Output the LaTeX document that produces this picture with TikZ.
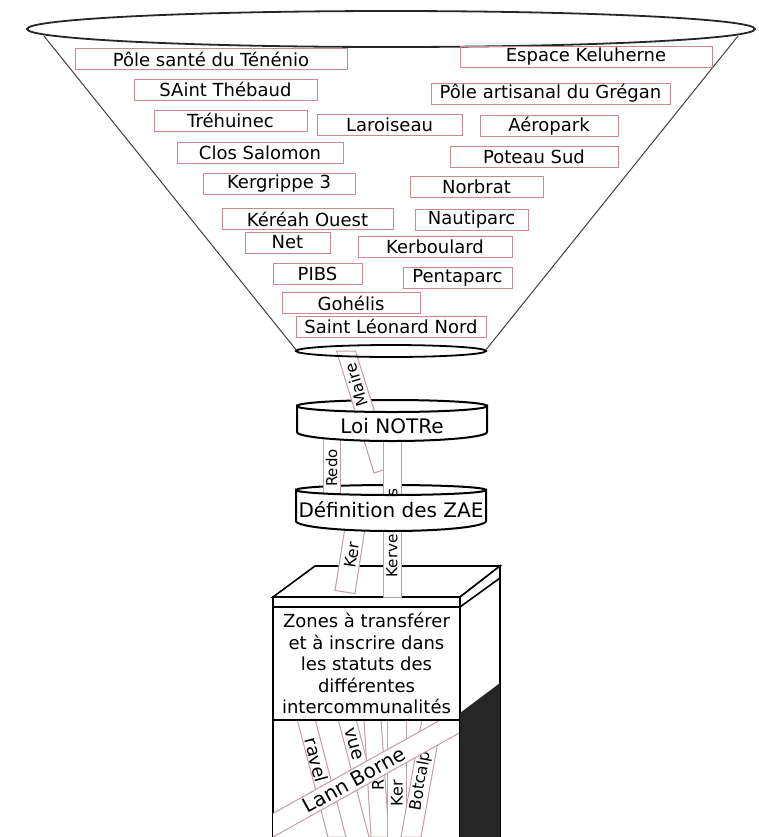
\documentclass[tikz,border=0pt]{standalone}
\usepackage{fontspec}
\setmainfont{DejaVu Sans}
\definecolor{zoneline}{RGB}{205,135,145}
\definecolor{bandline}{RGB}{190,160,165}

\begin{document}
\begin{tikzpicture}[x=0.5pt, y=-0.5pt]
\tikzset{zone/.style = {draw=zoneline, line width=0.5pt, inner sep=0pt, minimum height=10.5pt, font=\fontsize{9}{10}\selectfont}}
\tikzset{band/.style = {draw=bandline, fill=white, line width=0.5pt}}
\tikzset{bandtext/.style = {inner sep=0pt, font=\fontsize{8}{9}\selectfont}}
\tikzset{ring/.style = {draw=black, fill=white, line width=1pt}}
\tikzset{boxline/.style = {draw=black, line width=0.8pt}}
\useasboundingbox (0,0) rectangle (759,837);
% funnel
\coordinate (ftop) at (391,29);
\coordinate (fbot) at (391,351);
\coordinate (fl1) at (44,36);
\coordinate (fl2) at (297,351);
\coordinate (fr1) at (738,36);
\coordinate (fr2) at (485,351);
\draw[line width=0.9pt, black!85] (ftop) ellipse [x radius=182pt, y radius=9pt];
\draw[line width=0.5pt, black!75] (fl1) -- (fl2);
\draw[line width=0.5pt, black!75] (fr1) -- (fr2);
% zones
\node[zone, minimum width=136pt]   (tenenio)    at (211,59)    {Pôle santé du Ténénio};
\node[zone, minimum width=126pt]   (keluherne)  at (586,57)    {Espace Keluherne};
\node[zone, minimum width=91.5pt]  (thebaud)    at (225.5,89.5) {SAint Thébaud};
\node[zone, minimum width=119.5pt] (gregan)     at (550.5,93.5) {Pôle artisanal du Grégan};
\node[zone, minimum width=76.5pt]  (trehuinec)  at (230.5,120.5) {Tréhuinec};
\node[zone, minimum width=72.5pt]  (laroiseau)  at (389.5,125)  {Laroiseau};
\node[zone, minimum width=69pt]    (aeropark)   at (549,126)    {Aéropark};
\node[zone, minimum width=83pt]    (salomon)    at (260,153)    {Clos Salomon};
\node[zone, minimum width=84pt]    (poteau)     at (534,156.5)  {Poteau Sud};
\node[zone, minimum width=76pt]    (kergrippe)  at (279,184)    {Kergrippe 3};
\node[zone, minimum width=66.5pt]  (norbrat)    at (476.5,187)  {Norbrat};
\node[zone, minimum width=85.5pt]  (kereah)     at (307.5,219)  {Kéréah Ouest};
\node[zone, minimum width=56.5pt]  (nautiparc)  at (471.5,219.5) {Nautiparc};
\node[zone, minimum width=42.5pt]  (net)        at (287.5,242.5) {Net};
\node[zone, minimum width=77pt]    (kerboulard) at (435,247)    {Kerboulard};
\node[zone, minimum width=44.5pt]  (pibs)       at (317.5,273.5) {PIBS};
\node[zone, minimum width=54.5pt]  (pentaparc)  at (457.5,277.5) {Pentaparc};
\node[zone, minimum width=69pt]    (gohelis)    at (351,303)    {Gohélis};
\node[zone, minimum width=95pt]    (leonard)    at (391,326.5)  {Saint Léonard Nord};
% box
\draw[boxline, fill=white] (273,597) -- (315,566) -- (500,566) -- (460,597) -- cycle;
\draw[boxline, fill=white] (273,837) -- (273,597) -- (460,597) -- (460,837);
\begin{scope}
\clip (273,719) rectangle (460,837);
\draw[band] (297,719) -- (315,719) -- (346,837) -- (328,837) -- cycle;
\node[bandtext, rotate=-75, font=\fontsize{9}{10}\selectfont] (gravel) at (316.5,760) {ravel};
\draw[band] (338,719) -- (356,719) -- (387,837) -- (369,837) -- cycle;
\node[bandtext, rotate=-75, font=\fontsize{9}{10}\selectfont] (bellevue) at (354,744) {vue};
\draw[band] (364,719) -- (381,719) -- (389,837) -- (371,837) -- cycle;
\node[bandtext, rotate=90] (rzone) at (378,785) {R};
\draw[band] (387,719) rectangle (406,837);
\node[bandtext, rotate=90] (kerbox) at (397,793) {Ker};
\draw[band] (422,719) -- (442,719) -- (421,837) -- (401,837) -- cycle;
\node[bandtext, rotate=80] (botcalp) at (421,781) {Botcalp};
\draw[band] (263,819) -- (460,709) -- (470,727) -- (273,837) -- cycle;
\node[bandtext, rotate=29, font=\fontsize{10}{11}\selectfont] (lannborne) at (354,780) {Lann Borne};
\end{scope}
\draw[boxline] (273,597) rectangle (460,607);
\node[draw=black, line width=1pt, fill=white, minimum width=93.5pt, minimum height=56.5pt, inner sep=0pt,
      align=center, font=\fontsize{9}{10.75}\selectfont] (statuts) at (366.5,663.5)
  {Zones à transférer\\et à inscrire dans\\les statuts des\\différentes\\intercommunalités};
\draw[boxline, fill=white] (460,597) -- (500,566) -- (500,837) -- (460,837) -- cycle;
\draw[boxline] (460,607) -- (500,578);
\fill[black!85] (460,713) -- (500,683) -- (500,837) -- (460,837) -- cycle;
% back edges of the rings
\draw[line width=1pt] (297,406) arc[start angle=180, end angle=0, x radius=47.5pt, y radius=3pt];
\draw[line width=1pt] (296,490) arc[start angle=180, end angle=0, x radius=47.5pt, y radius=2.5pt];
% strips
\draw[band] (336.5,351) -- (355.5,351) -- (392,467) -- (374,473) -- cycle;
\node[bandtext, rotate=107] (maire) at (356.5,385) {Maire};
\draw[band] (323,428) rectangle (340,505);
\node[bandtext, rotate=90, font=\fontsize{7.5}{8}\selectfont] (redo) at (331.5,468) {Redo};
\draw[band] (347,515) -- (367,515) -- (355,593.5) -- (335,590.5) -- cycle;
\node[bandtext, rotate=81] (kerzone) at (352,555) {Ker};
\draw[band] (383,428) rectangle (401,597);
\node[bandtext, rotate=90, font=\fontsize{7.6}{8}\selectfont] (kerve) at (392,533) {Kerve\hphantom{nane}s};
\draw[line width=0.9pt] (fbot) ellipse [x radius=47.5pt, y radius=3pt];
% rings
\draw[ring] (297,406) arc[start angle=180, end angle=360, x radius=47.5pt, y radius=3pt]
  -- (487,432) arc[start angle=0, end angle=-180, x radius=47.5pt, y radius=4.5pt] -- cycle;
\node[font=\fontsize{10}{11}\selectfont] (notre) at (392,426) {Loi NOTRe};
\draw[ring] (296,490) arc[start angle=180, end angle=360, x radius=47.5pt, y radius=2.5pt]
  -- (486,521) arc[start angle=0, end angle=-180, x radius=47.5pt, y radius=5pt] -- cycle;
\node[font=\fontsize{10}{11}\selectfont] (zae) at (391,510) {Définition des ZAE};
\end{tikzpicture}
\end{document}
